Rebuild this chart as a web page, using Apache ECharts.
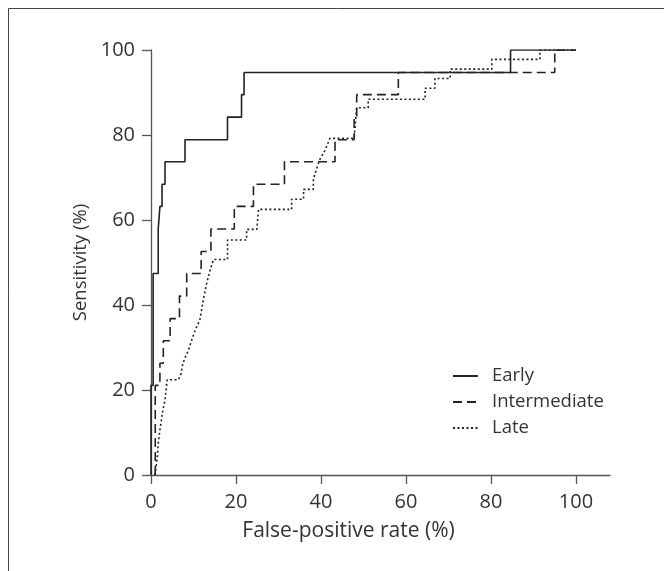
<!DOCTYPE html>
<html>
<head>
<meta charset="utf-8">
<script src="https://cdn.jsdelivr.net/npm/echarts@6/dist/echarts.min.js"></script>
<style>
html,body{margin:0;padding:0;background:#fff;}
#chart{width:664px;height:571px;}
</style>
</head>
<body>
<div id="chart"></div>
<script>
// Tick labels
const xTicks = [0, 20, 40, 60, 80, 100];
const yTicks = [0, 20, 40, 60, 80, 100];
const seriesNames = ['Early', 'Intermediate', 'Late'];

// ROC curves: [false-positive rate %, sensitivity %]
const early = [
  [0,0],[0,21.1],[0.5,21.1],[0.5,31.6],[0.5,47.4],[1.7,47.4],[1.7,57.9],[2.1,57.9],
  [2.1,63.2],[2.6,63.2],[2.6,68.4],[3.3,68.4],[3.3,73.7],[8,73.7],[8,78.9],[18,78.9],
  [18,84.2],[21.3,84.2],[21.3,89.5],[21.9,89.5],[21.9,94.7],[84.6,94.7],[84.6,100],[100,100]
];
const intermediate = [
  [1,0],[1,21.1],[2.1,21.1],[2.1,26.3],[2.9,26.3],[2.9,31.6],[4.5,31.6],[4.5,36.8],
  [6.7,36.8],[6.7,42.1],[8.4,42.1],[8.4,47.4],[11.8,47.4],[11.8,52.6],[14.1,52.6],
  [14.1,57.9],[19.6,57.9],[19.6,63.2],[24.1,63.2],[24.1,68.4],[31.4,68.4],[31.4,73.7],
  [43.3,73.7],[43.3,78.9],[47.8,78.9],[47.8,84.2],[48.4,84.2],[48.4,89.5],[58.2,89.5],
  [58.2,94.7],[95,94.7],[95,100],[100,100]
];
const late = [
  [0.9,0],[1.2,2],[1.5,4.3],[1.7,7.4],[2.1,10.6],[2.8,15.3],[3.3,17.6],[3.8,22.4],
  [6.4,22.4],[7,23.5],[7.5,26.3],[8.8,29.4],[9.6,31.8],[10.4,34.1],[11.5,36.5],
  [11.9,38.8],[12.3,41.2],[13.1,45.1],[13.9,48.2],[14.7,50.7],[18,50.7],[18,55.3],
  [22.5,55.3],[22.5,57.8],[24.9,57.8],[25.3,62.5],[33.1,62.5],[33.1,64.9],[35.9,64.9],
  [35.9,67.2],[38.2,67.2],[38.2,69.6],[38.6,69.6],[39.6,74],[41,76.5],[42.1,79.2],
  [47.8,79.2],[48.4,86.4],[51.1,86.4],[51.1,88.4],[64.5,88.4],[64.5,91],[66.8,91],
  [66.8,93.3],[70.4,93.3],[70.4,95.5],[80.2,95.5],[80.2,97.8],[91.5,97.8],[91.5,100],[100,100]
];

const FONT = '"Open Sans", "Noto Sans", sans-serif';
const axisColor = '#555';
const lineColor = '#222';
const textColor = '#333';

const chart = echarts.init(document.getElementById('chart'), null, {renderer: 'canvas'});
chart.setOption({
  animation: false,
  backgroundColor: '#fff',
  graphic: [{
    type: 'polyline',
    shape: {points: [[8.5, 700], [8.5, 8.5], [800, 8.5]]},
    style: {stroke: '#444', lineWidth: 1, fill: null},
    silent: true
  }],
  grid: {left: 151, top: 50, width: 459, height: 425, containLabel: false},
  legend: {
    orient: 'vertical',
    left: 447,
    top: 361,
    itemWidth: 25,
    itemHeight: 20,
    itemGap: 6,
    data: seriesNames,
    itemStyle: {opacity: 0},
    textStyle: {fontFamily: FONT, fontSize: 18.5, color: textColor, lineHeight: 20, padding: [0, 0, 0, 9]}
  },
  xAxis: {
    type: 'value',
    min: 0,
    max: 108,
    name: 'False-positive rate (%)',
    nameLocation: 'middle',
    nameGap: 46,
    nameTextStyle: {fontFamily: FONT, fontSize: 21, color: textColor, padding: [0, 64, 0, 0]},
    axisLine: {show: true, lineStyle: {color: axisColor, width: 1.3}},
    axisTick: {show: true, length: 9, customValues: xTicks, lineStyle: {color: axisColor, width: 1.3}},
    axisLabel: {customValues: xTicks, fontFamily: FONT, fontSize: 20, color: textColor, margin: 17},
    splitLine: {show: false}
  },
  yAxis: {
    type: 'value',
    min: 0,
    max: 100,
    interval: 20,
    name: 'Sensitivity (%)',
    nameLocation: 'middle',
    nameGap: 61,
    nameTextStyle: {fontFamily: FONT, fontSize: 18.5, color: textColor},
    axisLine: {show: true, lineStyle: {color: axisColor, width: 1.3}},
    axisTick: {show: true, length: 9, lineStyle: {color: axisColor, width: 1.3}},
    axisLabel: {fontFamily: FONT, fontSize: 20, color: textColor, margin: 16},
    splitLine: {show: false}
  },
  series: [
    {name: seriesNames[0], type: 'line', data: early, showSymbol: false, symbol: 'none',
     lineStyle: {color: lineColor, width: 1.6, type: 'solid'}, itemStyle: {color: lineColor}},
    {name: seriesNames[1], type: 'line', data: intermediate, showSymbol: false, symbol: 'none',
     lineStyle: {color: lineColor, width: 1.6, type: [9, 5]}, itemStyle: {color: lineColor}},
    {name: seriesNames[2], type: 'line', data: late, showSymbol: false, symbol: 'none',
     lineStyle: {color: lineColor, width: 1.6, type: [2, 2.5]}, itemStyle: {color: lineColor}}
  ]
});
</script>
</body>
</html>
